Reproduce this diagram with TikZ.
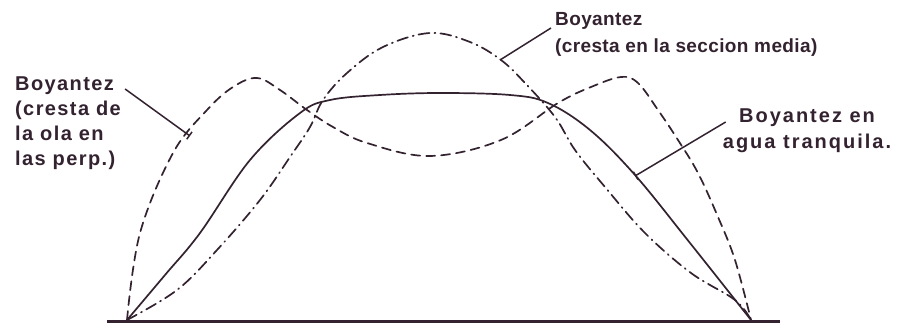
\documentclass[tikz,border=0pt]{standalone}
\usepackage{fontspec}
\setmainfont{Liberation Sans}
\usetikzlibrary{arrows.meta}
\definecolor{bwInk}{HTML}{33222F}

\begin{document}
\begin{tikzpicture}[x=1pt, y=-1pt,
    curve/.style={draw=bwInk, line width=1.7pt, line cap=round},
    crestends/.style={curve, dash pattern=on 9pt off 6pt},
    crestmid/.style={curve, dash pattern=on 11pt off 5pt on 1pt off 5pt},
    leader/.style={draw=bwInk, line width=1.5pt},
    lbl/.style={inner sep=0pt, text=bwInk, font=\bfseries}]
  \useasboundingbox (0,0) rectangle (916,324);

  % keel line and the two ends
  \coordinate (pl) at (127,320);
  \coordinate (pr) at (751,320);
  \draw[bwInk, line width=2.5pt] (107,321.5) -- (780,321.5);

  % still water
  \draw[curve] plot[smooth, tension=0.6] coordinates {(127,320) (165,275)
    (200,233) (250,160) (300,113) (330,100) (380,95) (440,93) (510,95)
    (548,103) (590,130) (635,175) (690,243) (751,320)};
  % crest at the perpendiculars
  \draw[crestends] plot[smooth, tension=0.6] coordinates {(127,320) (140,233)
    (173,153) (207,110) (233,87) (257,78) (280,90) (307,110) (333,127)
    (367,143) (430,156) (501,140) (558,103) (591,87) (621,77) (638,83)
    (658,110) (678,140) (698,173) (718,217) (735,260) (751,320)};
  % crest at midship
  \draw[crestmid] plot[smooth, tension=0.6] coordinates {(127,320) (177,290)
    (217,250) (260,200) (290,157) (310,127) (323,100) (347,73) (383,47)
    (430,33) (470,42) (501,60) (525,83) (555,117) (575,150) (605,187)
    (645,233) (691,273) (735,300) (751,320)};

  \coordinate (t1) at (190,136);
  \coordinate (t2) at (500,60);
  \coordinate (t3) at (635,176);

  % labels
  \node[lbl, anchor=north west, align=left,
    font=\bfseries\fontsize{20}{25}\selectfont\addfontfeature{LetterSpace=7}]
    (lblA) at (15,77) {Boyantez\\(cresta de\\la ola en\\las perp.)};
  \node[lbl, anchor=north west, align=left,
    font=\bfseries\fontsize{19}{27}\selectfont\addfontfeature{LetterSpace=2}]
    (lblB) at (555,12) {Boyantez\\(cresta en la seccion media)};
  \node[lbl, anchor=north, align=center,
    font=\bfseries\fontsize{20}{26}\selectfont\addfontfeature{LetterSpace=10}]
    (lblC) at (807,109) {Boyantez en\\agua tranquila.};

  \draw[leader, -{Bar[width=9pt]}] ([shift={(4,12)}]lblA.north east) -- (t1);
  \draw[leader] ([shift={(-4,16)}]lblB.north west) -- (t2);
  \draw[leader, -{Bar[width=9pt]}] ([shift={(3,13)}]lblC.north west) -- (t3);
\end{tikzpicture}
\end{document}
